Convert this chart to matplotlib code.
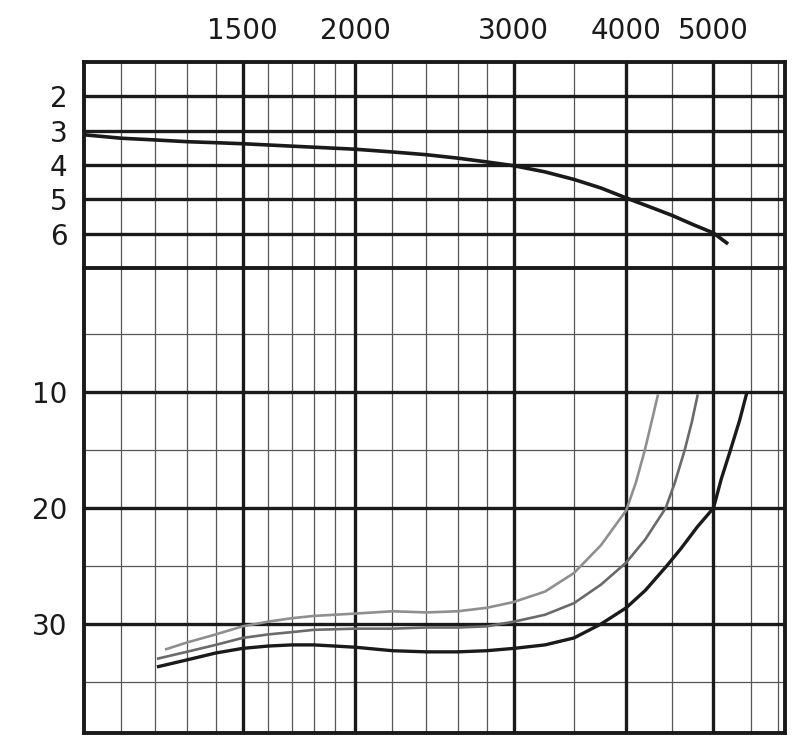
import matplotlib
matplotlib.use("Agg")
import matplotlib.pyplot as plt
from matplotlib.ticker import FixedLocator, NullLocator, FixedFormatter

# rpm grid (log scale) and labels
rpm_major = [1500, 2000, 3000, 4000, 5000]
rpm_minor = [1100, 1200, 1300, 1400, 1600, 1700, 1800, 1900, 2200, 2400,
             2600, 2800, 3500, 4500, 5500, 5900]
rpm_labels = ["1500", "2000", "3000", "4000", "5000"]

# upper panel
top_ticks = [2, 3, 4, 5, 6]
top_rpm = [1000, 1100, 1200, 1300, 1400, 1500, 1700, 2000, 2200, 2400, 2600,
           2800, 3000, 3250, 3500, 3750, 4000, 4250, 4500, 4750, 5000, 5190]
top_val = [3.12, 3.22, 3.27, 3.32, 3.35, 3.38, 3.45, 3.54, 3.62, 3.70, 3.80,
           3.91, 4.02, 4.20, 4.42, 4.67, 4.96, 5.22, 5.47, 5.74, 5.98, 6.30]

# lower panel
bot_ticks = [10, 20, 30]
bot_minor = [5, 15, 25, 35]

black_rpm = [1205, 1300, 1400, 1500, 1600, 1700, 1800, 1900, 2000, 2200, 2400,
             2600, 2800, 3000, 3250, 3500, 3750, 4000, 4200, 4435, 4600, 4800,
             5000, 5100, 5212, 5347, 5443]
black_val = [33.7, 33.1, 32.5, 32.1, 31.9, 31.8, 31.8, 31.9, 32.0, 32.3, 32.4,
             32.4, 32.3, 32.1, 31.8, 31.2, 30.0, 28.6, 27.1, 25.0, 23.5, 21.6,
             20.0, 17.5, 15.2, 12.4, 10.1]

mid_rpm = [1205, 1300, 1400, 1500, 1600, 1700, 1800, 2000, 2200, 2400, 2600,
           2800, 3000, 3250, 3500, 3750, 4000, 4200, 4425, 4530, 4645, 4730, 4803]
mid_val = [33.0, 32.4, 31.8, 31.2, 30.9, 30.7, 30.5, 30.4, 30.4, 30.3, 30.3,
           30.2, 29.8, 29.2, 28.2, 26.6, 24.7, 22.7, 20.0, 17.8, 15.0, 12.6, 10.2]

light_rpm = [1230, 1300, 1400, 1500, 1600, 1700, 1800, 2000, 2200, 2400, 2600,
             2800, 3000, 3250, 3500, 3750, 4000, 4100, 4195, 4270, 4339]
light_val = [32.2, 31.6, 30.9, 30.2, 29.8, 29.5, 29.3, 29.1, 28.9, 29.0, 28.9,
             28.6, 28.1, 27.2, 25.6, 23.2, 20.2, 17.8, 15.0, 12.5, 10.2]

plt.rcParams["font.family"] = ["DejaVu Sans"]

fig = plt.figure(figsize=(8, 7.48), dpi=100)
ax_top = fig.add_axes([0.105, 0.6417, 0.876, 0.2754])
ax_bot = fig.add_axes([0.105, 0.0200, 0.876, 0.6217])

THICK = 2.4
THIN = 0.9
for ax in (ax_top, ax_bot):
    ax.set_xscale("log")
    ax.set_xlim(1000, 6000)
    for r in rpm_minor:
        ax.axvline(r, color="#555555", lw=THIN, zorder=1)
    for r in rpm_major:
        ax.axvline(r, color="#1a1a1a", lw=THICK, zorder=2)
    for s in ax.spines.values():
        s.set_linewidth(THICK + 0.4)
        s.set_color("#1a1a1a")
    ax.xaxis.set_minor_locator(NullLocator())
    ax.tick_params(length=0, labelsize=20, pad=12, colors="#1a1a1a")

# upper panel
ax_top.set_ylim(7, 1)
for v in top_ticks:
    ax_top.axhline(v, color="#1a1a1a", lw=THICK, zorder=2)
ax_top.set_yticks(top_ticks)
ax_top.set_yticklabels([str(v) for v in top_ticks])
ax_top.xaxis.set_major_locator(FixedLocator(rpm_major))
ax_top.xaxis.set_major_formatter(FixedFormatter(rpm_labels))
ax_top.xaxis.tick_top()
ax_top.spines["bottom"].set_visible(False)
ax_top.plot(top_rpm, top_val, color="#1a1a1a", lw=2.6, zorder=3,
            solid_capstyle="butt", solid_joinstyle="round")

# lower panel
ax_bot.set_ylim(39.4, -0.7)
for v in bot_minor:
    ax_bot.axhline(v, color="#555555", lw=THIN, zorder=1)
for v in bot_ticks:
    ax_bot.axhline(v, color="#1a1a1a", lw=THICK, zorder=2)
ax_bot.set_yticks(bot_ticks)
ax_bot.set_yticklabels([str(v) for v in bot_ticks])
ax_bot.xaxis.set_major_locator(NullLocator())

ax_bot.plot(light_rpm, light_val, color="#8f8f8f", lw=1.9, zorder=3,
            solid_capstyle="butt", solid_joinstyle="round")
ax_bot.plot(mid_rpm, mid_val, color="#6a6a6a", lw=1.9, zorder=3,
            solid_capstyle="butt", solid_joinstyle="round")
ax_bot.plot(black_rpm, black_val, color="#1a1a1a", lw=2.4, zorder=4,
            solid_capstyle="butt", solid_joinstyle="round")

fig.savefig("out.png", dpi=100, facecolor="white")
